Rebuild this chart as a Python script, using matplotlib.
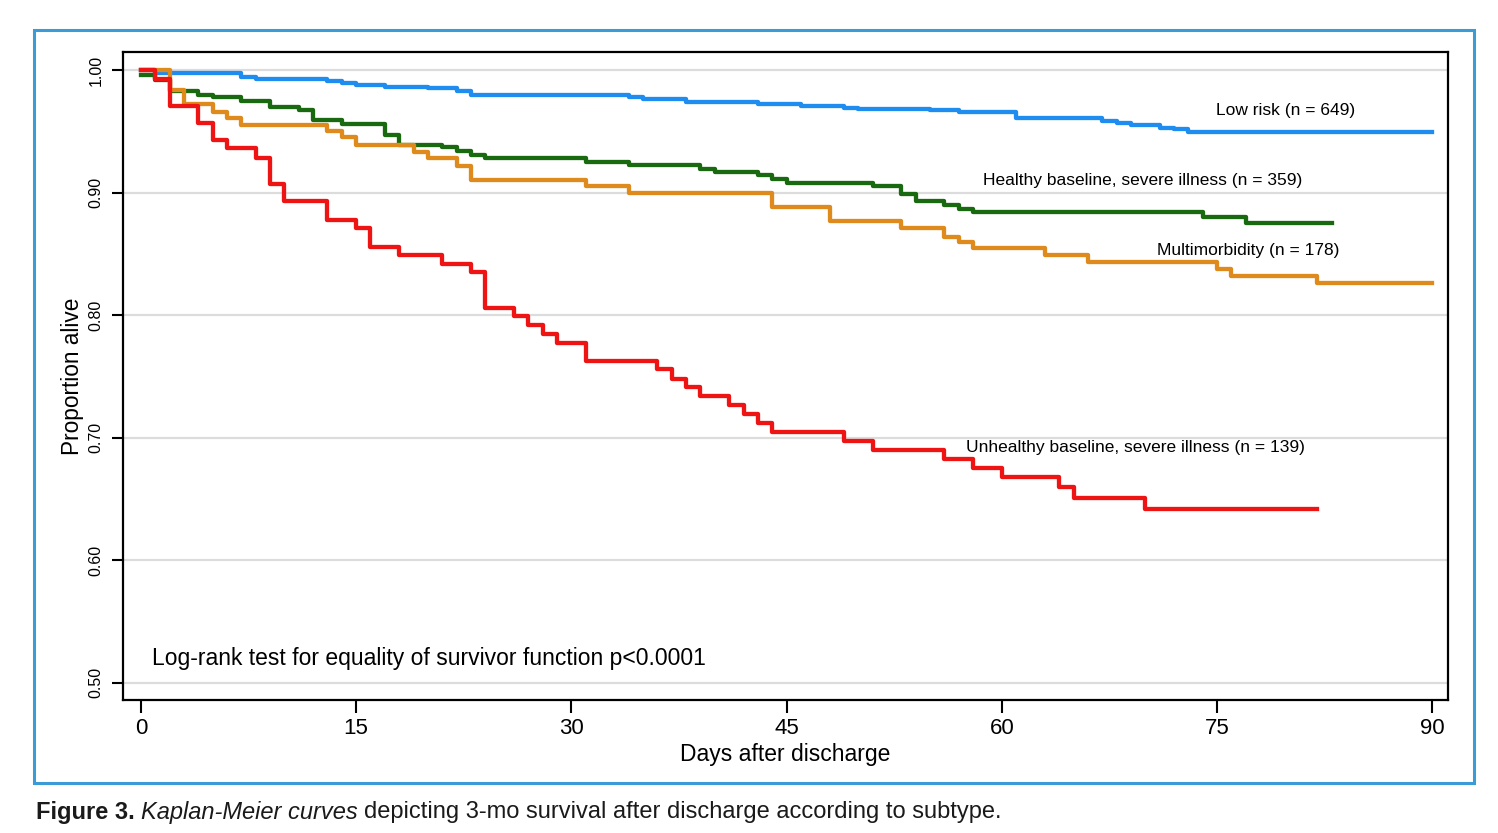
import matplotlib
matplotlib.use("Agg")
import matplotlib.pyplot as plt
from matplotlib.patches import Rectangle

# 字体
plt.rcParams["font.family"] = ["Liberation Sans", "DejaVu Sans"]

# Kaplan-Meier 数据 (天, 生存比例)
low_t = [0, 1, 7, 8, 13, 14, 15, 17, 20, 22, 23, 34, 35, 38, 43, 46, 49, 50, 55, 57, 61, 67, 68, 69, 71, 72, 73, 90]
low_s = [1.0, 0.9975, 0.9945, 0.9927, 0.991, 0.9896, 0.9878, 0.986, 0.985, 0.983, 0.980, 0.978, 0.976, 0.974,
         0.972, 0.971, 0.969, 0.968, 0.967, 0.9655, 0.961, 0.9587, 0.957, 0.955, 0.953, 0.9516, 0.9497, 0.9497]

healthy_t = [0, 1, 2, 4, 5, 7, 9, 11, 12, 14, 17, 18, 21, 22, 23, 24, 31, 34, 39, 40, 43, 44, 45, 51, 53, 54,
             56, 57, 58, 74, 77, 83]
healthy_s = [0.996, 0.992, 0.983, 0.980, 0.978, 0.975, 0.970, 0.967, 0.959, 0.956, 0.947, 0.939, 0.937, 0.934,
             0.931, 0.928, 0.925, 0.9225, 0.919, 0.9166, 0.914, 0.911, 0.908, 0.905, 0.899, 0.893, 0.890, 0.887,
             0.8845, 0.880, 0.875, 0.875]

multi_t = [0, 2, 3, 5, 6, 7, 13, 14, 15, 19, 20, 22, 23, 31, 34, 44, 48, 53, 56, 57, 58, 63, 66, 75, 76, 82, 90]
multi_s = [1.0, 0.984, 0.972, 0.966, 0.961, 0.955, 0.950, 0.945, 0.939, 0.933, 0.928, 0.922, 0.910, 0.905, 0.900,
           0.888, 0.877, 0.871, 0.864, 0.8595, 0.8546, 0.849, 0.843, 0.838, 0.832, 0.8265, 0.8265]

unhealthy_t = [0, 1, 2, 4, 5, 6, 8, 9, 10, 13, 15, 16, 18, 21, 23, 24, 26, 27, 28, 29, 31, 36, 37, 38, 39, 41,
               42, 43, 44, 49, 51, 56, 58, 60, 64, 65, 70, 82]
unhealthy_s = [1.0, 0.993, 0.971, 0.957, 0.943, 0.936, 0.928, 0.907, 0.893, 0.878, 0.871, 0.856, 0.849, 0.842,
               0.835, 0.806, 0.799, 0.792, 0.785, 0.777, 0.763, 0.756, 0.748, 0.741, 0.734, 0.727, 0.719, 0.712,
               0.705, 0.697, 0.690, 0.683, 0.675, 0.668, 0.660, 0.651, 0.642, 0.642]

x_ticks = [0, 15, 30, 45, 60, 75, 90]
y_ticks = [0.50, 0.60, 0.70, 0.80, 0.90, 1.00]

fig = plt.figure(figsize=(14.98, 8.33), dpi=100)
ax = fig.add_axes([0.0821, 0.1597, 0.8845, 0.7779])

# 网格线
for yv in y_ticks:
    ax.axhline(yv, color="#dcdcdc", lw=1.6, zorder=0)

lw = 3.1
ax.step(low_t, low_s, where="post", color="#1f8cf0", lw=lw)
ax.step(healthy_t, healthy_s, where="post", color="#18690f", lw=lw)
ax.step(multi_t, multi_s, where="post", color="#df8a1c", lw=lw)
ax.step(unhealthy_t, unhealthy_s, where="post", color="#ee1414", lw=lw)

ax.set_xlim(-1.25, 91.1)
ax.set_ylim(0.4861, 1.0147)
ax.set_xticks(x_ticks)
ax.set_xticklabels([str(v) for v in x_ticks], fontsize=16)
ax.set_yticks(y_ticks)
ax.set_yticklabels(["%.2f" % v for v in y_ticks], fontsize=11.5, rotation=90, va="center")
ax.tick_params(axis="x", length=9, width=1.5, pad=4)
ax.tick_params(axis="y", length=8, width=1.5, pad=6)
for sp in ax.spines.values():
    sp.set_linewidth(1.6)

ax.set_xlabel("Days after discharge", fontsize=16.5, labelpad=3)
ax.set_ylabel("Proportion alive", fontsize=16.3, labelpad=3)

# 曲线标签
ax.text(79.75, 0.9666, "Low risk (n = 649)", fontsize=12.5, ha="center", va="center")
ax.text(69.8, 0.9095, "Healthy baseline, severe illness (n = 359)", fontsize=12.5, ha="center", va="center")
ax.text(77.2, 0.8524, "Multimorbidity (n = 178)", fontsize=12.5, ha="center", va="center")
ax.text(69.3, 0.6917, "Unhealthy baseline, severe illness (n = 139)", fontsize=12.5, ha="center", va="center")
ax.text(0.77, 0.5196, "Log-rank test for equality of survivor function p<0.0001", fontsize=16.5,
        ha="left", va="center")

# 外框
fig.patches.append(Rectangle((0.0227, 0.06), 0.9613, 0.904, transform=fig.transFigure,
                             fill=False, edgecolor="#3b9bd6", lw=2.2))

# 图注
renderer = fig.canvas.get_renderer()
parts = [("Figure 3.", "bold", "normal"),
         ("Kaplan-Meier curves", "normal", "italic"),
         ("depicting 3-mo survival after discharge according to subtype.", "normal", "normal")]
x0 = 36
for txt, weight, style in parts:
    t = fig.text(x0 / 1498, 0.0252, txt, fontsize=17, fontweight=weight, fontstyle=style,
                 ha="left", va="center", color="#1a1a1a")
    bb = t.get_window_extent(renderer)
    x0 = bb.x1 + 6

fig.savefig("out.png", dpi=100)
